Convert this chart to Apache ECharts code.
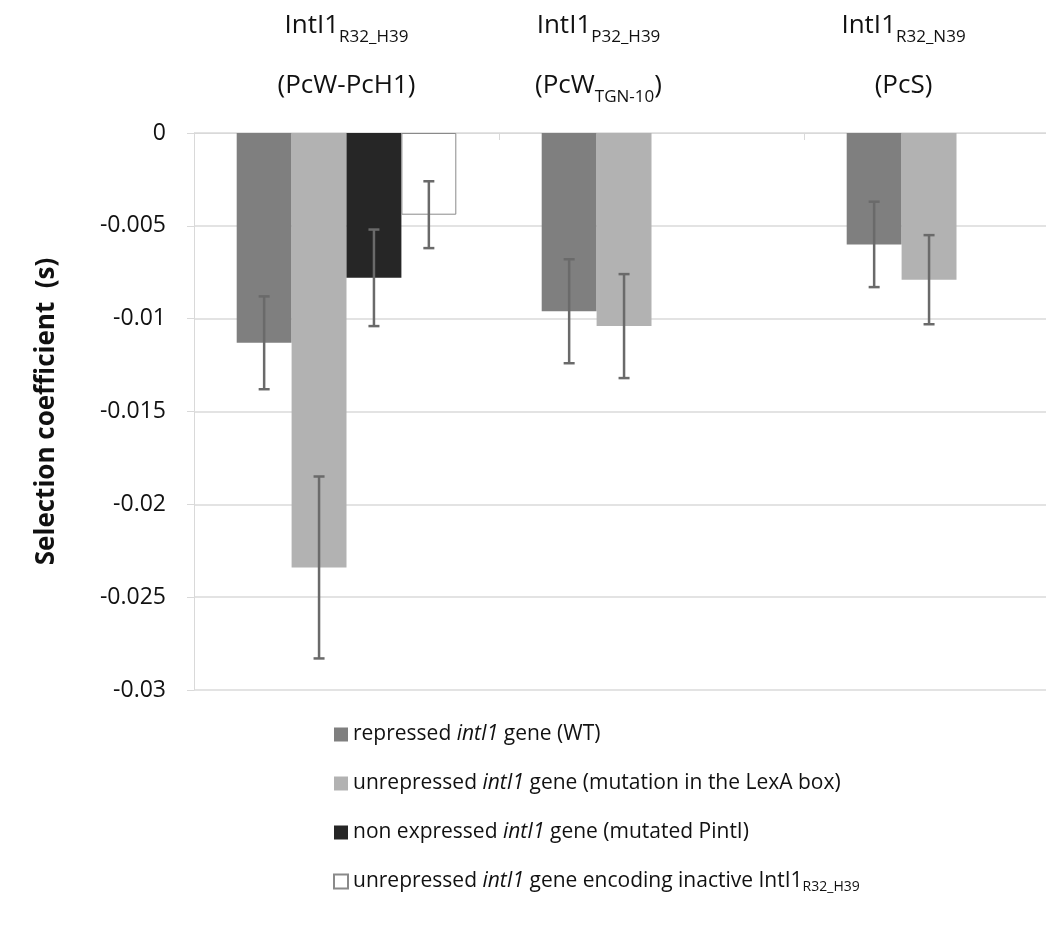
<!DOCTYPE html>
<html>
<head>
<meta charset="utf-8">
<script src="https://cdn.jsdelivr.net/npm/echarts@6/dist/echarts.min.js"></script>
<style>
  html, body { margin: 0; padding: 0; background: #fff; }
  #chart { width: 1046px; height: 926px; }
</style>
</head>
<body>
<div id="chart"></div>
<script>
// groups (top labels): main name, subscript, second line
const groupNames = ['IntI1', 'IntI1', 'IntI1']
const groupSubs = ['R32_H39', 'P32_H39', 'R32_N39']
const groupHosts = ['(PcW-PcH1)', '(PcW{s2|TGN-10})', '(PcS)']

const seriesNames = [
  'repressed intI1 gene (WT)',
  'unrepressed intI1 gene (mutation in the LexA box)',
  'non expressed intI1 gene (mutated PintI)',
  'unrepressed intI1 gene encoding inactive IntI1 R32_H39'
]
// selection coefficient per group
const repressed = [-0.0113, -0.0096, -0.0060]
const unrepressed = [-0.0234, -0.0104, -0.0079]
const nonExpressed = [-0.0078, null, null]
const inactive = [-0.0044, null, null]
// error (+/-)
const repressedErr = [0.0025, 0.0028, 0.0023]
const unrepressedErr = [0.0049, 0.0028, 0.0024]
const nonExpressedErr = [0.0026, null, null]
const inactiveErr = [0.0018, null, null]

const yTicks = { min: -0.03, max: 0, interval: 0.005 }

const values = [repressed, unrepressed, nonExpressed, inactive]
const errors = [repressedErr, unrepressedErr, nonExpressedErr, inactiveErr]
const colors = ['#7f7f7f', '#b2b2b2', '#262626', '#ffffff']

const FONT = 'Open Sans'
const chart = echarts.init(document.getElementById('chart'))

const errData = []
values.forEach((arr, s) => {
  arr.forEach((v, i) => {
    if (v == null) return
    errData.push([i, s, v - errors[s][i], v + errors[s][i]])
  })
})

const legendRich = {
  t: { fontFamily: FONT, fontSize: 21, color: '#111' },
  i: { fontFamily: FONT, fontSize: 21, color: '#111', fontStyle: 'italic' },
  s: { fontFamily: FONT, fontSize: 14, color: '#111', padding: [11, 0, 0, 0] }
}
function legendText (name) {
  let txt = name.replace(/intI1/g, '}{i|intI1}{t|')
  txt = txt.replace(/IntI1 R32_H39/, 'IntI1}{s|R32_H39}{t|')
  return ('{t|' + txt + '}').replace(/\{t\|\}/g, '')
}

chart.setOption({
  backgroundColor: '#fff',
  animation: false,
  grid: { left: 194, top: 133, width: 915, height: 557, outerBoundsMode: 'none', containLabel: false },
  legend: {
    orient: 'vertical',
    left: 328,
    top: 718,
    icon: 'rect',
    itemWidth: 14,
    itemHeight: 14,
    itemGap: 26,
    data: seriesNames,
    formatter: legendText,
    textStyle: { fontFamily: FONT, fontSize: 21, lineHeight: 23, color: '#111', rich: legendRich }
  },
  xAxis: {
    type: 'category',
    position: 'top',
    data: groupNames.map((n, i) => ({
      value: n + '#' + groupSubs[i] + '#' + groupHosts[i],
      textStyle: i > 0 ? { padding: [0, 106, 0, 0] } : {}
    })),
    axisLine: { lineStyle: { color: '#d9d9d9', width: 1 } },
    axisTick: { show: true, inside: true, length: 7, lineStyle: { color: '#d9d9d9' } },
    axisLabel: {
      margin: 17,
      formatter: v => {
        const p = v.split('#')
        return '{a|' + p[0] + '}{s|' + p[1] + '}\n{a|' + p[2].replace('{s2|', '}{s|').replace('})', '}{a|)') + '}'
      },
      rich: {
        a: { fontFamily: FONT, fontSize: 26, color: '#111', lineHeight: 60 },
        s: { fontFamily: FONT, fontSize: 17, color: '#111', lineHeight: 60, padding: [22, 0, 0, 0] }
      }
    },
    splitLine: { show: false }
  },
  yAxis: {
    type: 'value',
    min: yTicks.min,
    max: yTicks.max,
    interval: yTicks.interval,
    name: 'Selection coefficient  (s)',
    nameLocation: 'middle',
    nameGap: 134,
    nameTextStyle: { fontFamily: FONT, fontSize: 26, fontWeight: 'bold', color: '#111' },
    axisLine: { show: true, lineStyle: { color: '#d9d9d9' } },
    axisTick: { show: true, length: 7, lineStyle: { color: '#d9d9d9' } },
    axisLabel: { margin: 28, fontFamily: FONT, fontSize: 23, color: '#111' },
    splitLine: { lineStyle: { color: '#e3e3e3', width: 2 } }
  },
  series: values.map((arr, s) => ({
    name: seriesNames[s],
    type: 'bar',
    data: arr,
    barGap: '0%',
    barCategoryGap: '28%',
    itemStyle: {
      color: colors[s],
      borderColor: s === 3 ? '#8a8a8a' : colors[s],
      borderWidth: s === 3 ? 1 : 0
    }
  })).concat([{
    type: 'custom',
    name: 'err',
    z: 10,
    data: errData,
    renderItem: (params, api) => {
      const band = api.size([1, 0])[0]
      const center = api.coord([api.value(0), 0])[0]
      const bw = band * 0.18
      const x = center - 2 * bw + (api.value(1) + 0.5) * bw
      const y1 = api.coord([api.value(0), api.value(2)])[1]
      const y2 = api.coord([api.value(0), api.value(3)])[1]
      const st = { stroke: '#6a6a6a', lineWidth: 2.5 }
      return {
        type: 'group',
        children: [
          { type: 'line', shape: { x1: x, y1: y1, x2: x, y2: y2 }, style: st },
          { type: 'line', shape: { x1: x - 5.5, y1: y1, x2: x + 5.5, y2: y1 }, style: st },
          { type: 'line', shape: { x1: x - 5.5, y1: y2, x2: x + 5.5, y2: y2 }, style: st }
        ]
      }
    }
  }])
})
</script>
</body>
</html>
